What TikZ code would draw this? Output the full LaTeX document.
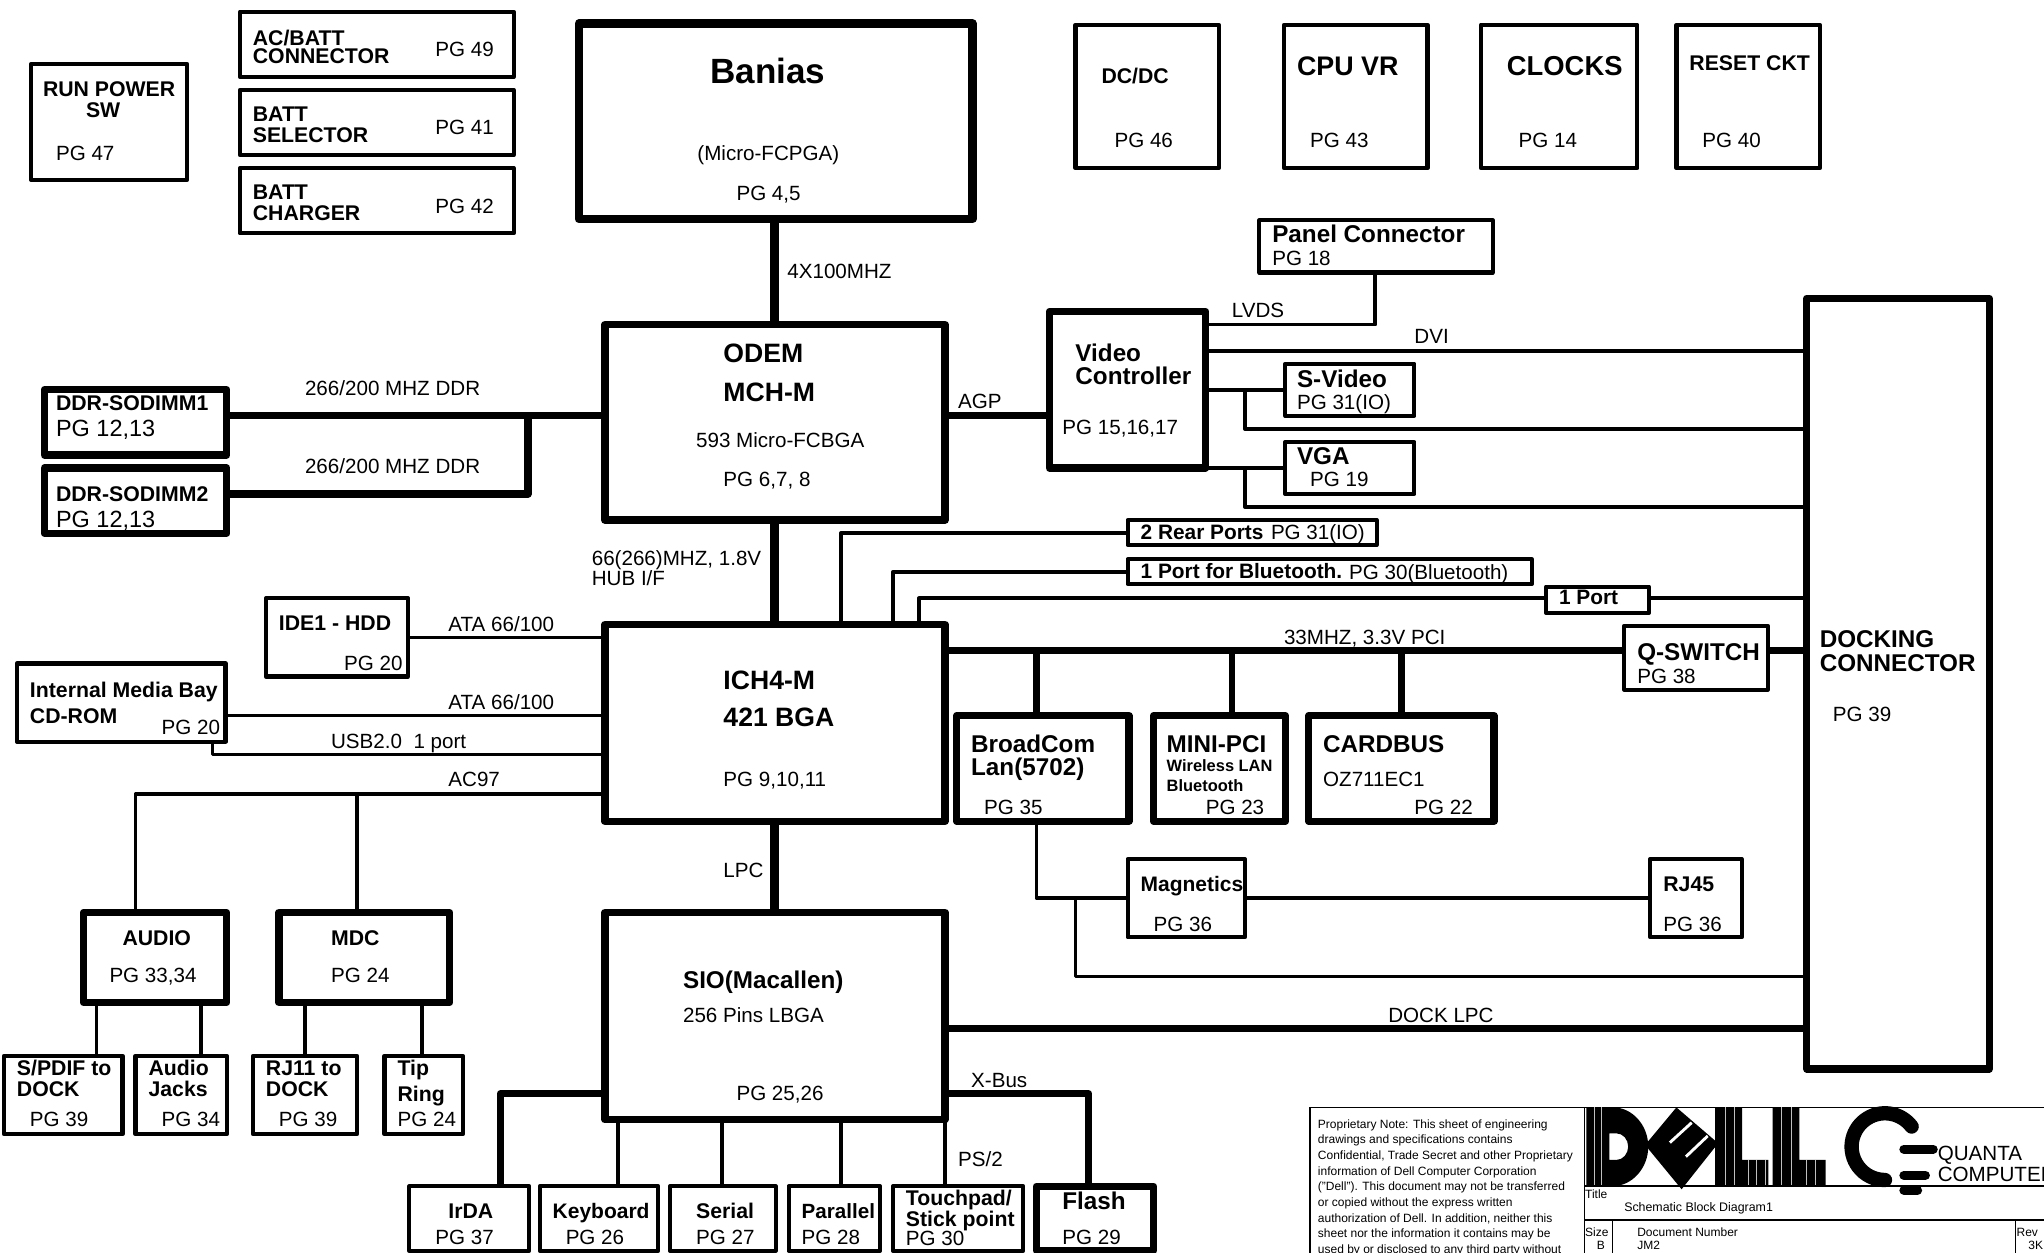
\documentclass[tikz,border=0pt]{standalone}
\usepackage{fontspec}
\setmainfont{Liberation Sans}
\newcount\lblcount
\tikzset{
  x=1pt,y=-1pt,
  boxa/.style={draw=black,line width=3.2pt,line join=round,inner sep=0pt,outer sep=0pt,rectangle},
  boxb/.style={boxa,line width=5.6pt},
  boxc/.style={boxa,line width=6.4pt},
  lbl/.style={anchor=base west,inner sep=0pt,outer sep=0pt,text=black},
  plain/.style={yshift=-0.5pt},
  bold/.style={node font=\bfseries},
  wa/.style={draw=black,line width=2.6pt,line join=round},
  wb/.style={draw=black,line width=2.9pt,line join=round},
  wc/.style={draw=black,line width=3.4pt,line join=round},
  wd/.style={draw=black,line width=5pt,line join=round},
  we/.style={draw=black,line width=5.6pt,line join=round},
  wf/.style={draw=black,line width=6.4pt,line join=round},
  rule/.style={draw=black,line width=1.3pt},
  stripe/.style={draw=white!75!black,line width=0.3pt},
}
\newcommand{\bx}[6]{%
  \pgfmathsetmacro{\bxw}{#5-#3}\pgfmathsetmacro{\bxh}{#6-#4}%
  \pgfmathsetmacro{\bxx}{(#5+#3)/2}\pgfmathsetmacro{\bxy}{(#6+#4)/2}%
  \node[#2,minimum width=\bxw pt,minimum height=\bxh pt] (#1) at (\bxx,\bxy) {};}
\newcommand{\tx}[5][plain]{%
  \global\advance\lblcount by 1
  \node[lbl,#1,font=\fontsize{#2}{#2}\selectfont] (t\the\lblcount) at (#3,#4) {#5};}
\newcommand{\pg}[3]{\tx{15.8}{#1}{#2}{#3}}
\newcommand{\bs}[3]{\tx[bold]{16.3}{#1}{#2}{#3}}
\newcommand{\bm}[3]{\tx[bold]{18.6}{#1}{#2}{#3}}
\newcommand{\bl}[3]{\tx[bold]{20.4}{#1}{#2}{#3}}
\newcommand{\nt}[2]{\tx{9.2}{1011}{#1}{#2}}
\begin{document}
\begin{tikzpicture}
\useasboundingbox (0,0) rectangle (1568,961.2);
\fill[white] (0,0) rectangle (1568,961.2);
\clip (0,0) rectangle (1568,961.2);
% boxes
\bx{run}{boxa}{24}{49}{143.5}{138}
\bx{acbatt}{boxa}{184}{9}{394}{59}
\bx{battsel}{boxa}{184}{69}{394}{119}
\bx{battchg}{boxa}{184}{129}{394}{179}
\bx{banias}{boxc}{444}{18}{746}{168}
\bx{dcdc}{boxa}{825}{19}{935}{129}
\bx{cpuvr}{boxa}{985}{19}{1095}{129}
\bx{clocks}{boxa}{1136}{19}{1256}{129}
\bx{reset}{boxa}{1286}{19}{1396}{129}
\bx{panel}{boxa}{966}{169}{1145}{209}
\bx{video}{boxb}{805}{239}{925}{359}
\bx{odem}{boxb}{464}{249}{725}{399}
\bx{dock}{boxb}{1386}{229}{1526}{820}
\bx{ddra}{boxb}{34}{299}{174}{349}
\bx{ddrb}{boxb}{34}{359}{174}{409}
\bx{svideo}{boxa}{986}{279}{1085}{319}
\bx{vga}{boxa}{986}{339}{1085}{379}
\bx{rear}{boxa}{865}{399}{1056}{418}
\bx{blue}{boxa}{865}{429}{1175}{448}
\bx{oneport}{boxa}{1186}{450}{1265}{470}
\bx{qsw}{boxa}{1246}{480}{1356}{529}
\bx{ide}{boxa}{204}{459}{313}{519}
\bx{imb}{boxa}{13}{509}{173}{569}
\bx{ich}{boxb}{464}{479}{725}{630}
\bx{lan}{boxb}{734}{549}{866}{630}
\bx{minipci}{boxb}{885}{549}{986}{630}
\bx{cardbus}{boxb}{1004}{549}{1146}{630}
\bx{magn}{boxa}{865}{659}{955}{719}
\bx{rj}{boxa}{1266}{659}{1336}{719}
\bx{audio}{boxb}{64}{700}{174}{769}
\bx{mdc}{boxb}{214}{700}{345}{769}
\bx{sio}{boxb}{464}{700}{725}{859}
\bx{spdif}{boxa}{3}{810}{94}{870}
\bx{jacks}{boxa}{104}{810}{174}{870}
\bx{rjdock}{boxa}{194}{810}{274}{870}
\bx{tip}{boxa}{295}{810}{355}{870}
\bx{irda}{boxa}{314}{910}{406}{959.5}
\bx{kbd}{boxa}{414}{910}{505}{959.5}
\bx{serial}{boxa}{514}{910}{595}{959.5}
\bx{parallel}{boxa}{605}{910}{675}{959.5}
\bx{touch}{boxa}{685}{910}{785}{959.5}
\bx{flash}{boxb}{795}{910}{885}{959.5}
% connectors
\draw[wf] (banias.south -| 594,0) -- (odem.north -| 594,0);
\draw[wf] (odem.south -| 594,0) -- (ich.north -| 594,0);
\draw[wf] (ich.south -| 594,0) -- (sio.north -| 594,0);
\draw[we] (odem.east |- 0,319) -- (video.west |- 0,319);
\draw[we] (ddra.east |- 0,319) -- (odem.west |- 0,319);
\draw[we] (ddrb.east |- 0,379) -- (405,379) -- (405,319);
\draw[wb] (video.east |- 0,249) -- (1055,249) -- (panel.south -| 1055,0);
\draw[wb] (video.east |- 0,269) -- (dock.west |- 0,269);
\draw[wc] (video.east |- 0,299) -- (svideo.west |- 0,299);
\draw[wb] (955,299) -- (955,329) -- (dock.west |- 0,329);
\draw[wa] (video.east |- 0,359) -- (vga.west |- 0,359);
\draw[wb] (955,359) -- (955,389) -- (dock.west |- 0,389);
\draw[wb] (ich.north -| 645,0) -- (645,409) -- (rear.west |- 0,409);
\draw[wc] (ich.north -| 685,0) -- (685,439) -- (blue.west |- 0,439);
\draw[wb] (ich.north -| 705,0) -- (705,459) -- (oneport.west |- 0,459);
\draw[wb] (oneport.east |- 0,459) -- (dock.west |- 0,459);
\draw[we] (ich.east |- 0,499) -- (qsw.west |- 0,499);
\draw[we] (qsw.east |- 0,499) -- (dock.west |- 0,499);
\draw[wd] (lan.north -| 795,0) -- (795,499);
\draw[wd] (minipci.north -| 945,0) -- (945,499);
\draw[wd] (cardbus.north -| 1075,0) -- (1075,499);
\draw[wa] (ide.east |- 0,489) -- (ich.west |- 0,489);
\draw[wa] (imb.east |- 0,549) -- (ich.west |- 0,549);
\draw[wa] (imb.south -| 163,0) -- (163,579) -- (ich.west |- 0,579);
\draw[wb] (ich.west |- 0,609) -- (104,609) -- (audio.north -| 104,0);
\draw[wb] (274,609) -- (mdc.north -| 274,0);
\draw[wb] (audio.south -| 74,0) -- (spdif.north -| 74,0);
\draw[wb] (audio.south -| 154,0) -- (jacks.north -| 154,0);
\draw[wb] (mdc.south -| 234,0) -- (rjdock.north -| 234,0);
\draw[wb] (mdc.south -| 324,0) -- (tip.north -| 324,0);
\draw[we] (sio.west |- 0,839) -- (384,839) -- (irda.north -| 384,0);
\draw[wa] (sio.south -| 474,0) -- (kbd.north -| 474,0);
\draw[wa] (sio.south -| 554,0) -- (serial.north -| 554,0);
\draw[wa] (sio.south -| 645,0) -- (parallel.north -| 645,0);
\draw[wa] (sio.south -| 725,0) -- (touch.north -| 725,0);
\draw[we] (sio.east |- 0,839) -- (835,839) -- (flash.north -| 835,0);
\draw[wd] (sio.east |- 0,789) -- (dock.west |- 0,789);
\draw[wa] (lan.south -| 795,0) -- (795,689) -- (magn.west |- 0,689);
\draw[wa] (825,689) -- (825,749) -- (dock.west |- 0,749);
\draw[wa] (magn.east |- 0,689) -- (rj.west |- 0,689);
% labels
\bs{33}{74}{RUN POWER}\bs{66}{90}{SW}\pg{43}{123}{PG 47}
\bs{194}{35}{AC/BATT}\bs{194}{49}{CONNECTOR}\pg{334}{43}{PG 49}
\bs{194}{93}{BATT}\bs{194}{109}{SELECTOR}\pg{334}{103}{PG 41}
\bs{194}{153}{BATT}\bs{194}{169}{CHARGER}\pg{334}{163}{PG 42}
\tx[bold]{26.9}{545}{64}{Banias}\pg{535}{123}{(Micro-FCPGA)}\pg{565}{153}{PG 4,5}
\pg{604}{213}{4X100MHZ}
\bs{845}{64}{DC/DC}\pg{855}{113}{PG 46}
\tx[bold]{20.6}{995}{58}{CPU VR}\pg{1005}{113}{PG 43}
\tx[bold]{21}{1156}{58}{CLOCKS}\pg{1165}{113}{PG 14}
\bs{1296}{54}{RESET CKT}\pg{1306}{113}{PG 40}
\bm{976}{186}{Panel Connector}\pg{976}{203}{PG 18}
\pg{945}{243}{LVDS}\pg{1085}{263}{DVI}
\bm{825}{277}{Video}\bm{825}{295}{Controller}\pg{815}{333}{PG 15,16,17}
\bm{995}{297}{S-Video}\pg{995}{314}{PG 31(IO)}
\bm{995}{356}{VGA}\pg{1005}{373}{PG 19}
\pg{735}{313}{AGP}
\bl{555}{278}{ODEM}\bl{555}{308}{MCH-M}\pg{534}{343}{593 Micro-FCBGA}\pg{555}{373}{PG 6,7, 8}
\bs{43}{315}{DDR-SODIMM1}\tx{18}{43}{334}{PG 12,13}
\bs{43}{385}{DDR-SODIMM2}\tx{18}{43}{404}{PG 12,13}
\pg{234}{303}{266/200 MHZ DDR}\pg{234}{363}{266/200 MHZ DDR}
\tx[bold]{16}{875}{414}{2 Rear Ports}\pg{975}{413}{PG 31(IO)}
\tx[bold]{16}{875}{444}{1 Port for Bluetooth.}\pg{1035}{444}{PG 30(Bluetooth)}
\tx[bold]{16}{1196}{464}{1 Port}
\pg{985}{494}{33MHZ, 3.3V PCI}
\pg{454}{433}{66(266)MHZ, 1.8V}\pg{454}{449}{HUB I/F}
\bs{214}{484}{IDE1 - HDD}\pg{264}{514}{PG 20}
\pg{344}{484}{ATA 66/100}\pg{344}{544}{ATA 66/100}
\bs{23}{535}{Internal Media Bay}\bs{23}{555}{CD-ROM}\pg{124}{563}{PG 20}
\pg{254}{574}{USB2.0\ \ 1 port}\pg{344}{603}{AC97}
\bl{555}{529}{ICH4-M}\bl{555}{557}{421 BGA}\pg{555}{603}{PG 9,10,11}
\bm{1256}{507}{Q-SWITCH}\pg{1256}{524}{PG 38}
\bm{1396}{497}{DOCKING}\bm{1396}{515}{CONNECTOR}\pg{1406}{553}{PG 39}
\bm{745}{577}{BroadCom}\bm{745}{595}{Lan(5702)}\pg{755}{624}{PG 35}
\bm{895}{577}{MINI-PCI}\tx[bold]{12.6}{895}{592}{Wireless LAN}\tx[bold]{12.6}{895}{607}{Bluetooth}\pg{925}{624}{PG 23}
\bm{1015}{577}{CARDBUS}\pg{1015}{603}{OZ711EC1}\pg{1085}{624}{PG 22}
\pg{555}{673}{LPC}
\tx[bold]{16.1}{875}{684}{Magnetics}\pg{885}{714}{PG 36}
\bs{1276}{684}{RJ45}\pg{1276}{714}{PG 36}
\pg{1065}{784}{DOCK LPC}
\bs{94}{725}{AUDIO}\pg{84}{753}{PG 33,34}
\bs{254}{725}{MDC}\pg{254}{753}{PG 24}
\bm{524}{758}{SIO(Macallen)}\pg{524}{784}{256 Pins LBGA}\pg{565}{844}{PG 25,26}
\pg{745}{834}{X-Bus}\pg{735}{894}{PS/2}
\bs{13}{825}{S/PDIF to}\bs{13}{841}{DOCK}\pg{23}{864}{PG 39}
\bs{114}{825}{Audio}\bs{114}{841}{Jacks}\pg{124}{864}{PG 34}
\bs{204}{825}{RJ11 to}\bs{204}{841}{DOCK}\pg{214}{864}{PG 39}
\bs{305}{825}{Tip}\bs{305}{845}{Ring}\pg{305}{864}{PG 24}
\bs{344}{935}{IrDA}\pg{334}{954}{PG 37}
\tx[bold]{16.1}{424}{935}{Keyboard}\pg{434}{954}{PG 26}
\bs{534}{935}{Serial}\pg{534}{954}{PG 27}
\tx[bold]{15.8}{615}{935}{Parallel}\pg{615}{954}{PG 28}
\bs{695}{925}{Touchpad/}\bs{695}{941}{Stick point}\pg{695}{955}{PG 30}
\tx[bold]{18.6}{815}{928}{Flash}\pg{815}{954}{PG 29}
% title block
\draw[rule] (1005,961.2) -- (1005,849.5) -- (1568,849.5);
\draw[rule] (1215.5,849.5) -- (1215.5,961.2);
\draw[rule] (1215.5,909.8) -- (1568,909.8);
\draw[rule] (1215.5,936) -- (1568,936);
\draw[rule] (1237,936) -- (1237,961.2);
\draw[rule] (1546,936) -- (1546,961.2);
\nt{865}{Proprietary Note: This sheet of engineering}
\nt{877}{drawings and specifications contains}
\nt{889}{Confidential, Trade Secret and other Proprietary}
\nt{901}{information of Dell Computer Corporation}
\nt{913}{("Dell"). This document may not be transferred}
\nt{925}{or copied without the express written}
\nt{937}{authorization of Dell. In addition, neither this}
\nt{949}{sheet nor the information it contains may be}
\nt{961}{used by or disclosed to any third party without}
\tx{9.2}{1216}{919}{Title}
\tx{9.5}{1246}{929}{Schematic Block Diagram1}
\tx{9.2}{1216}{948}{Size}\tx{9.2}{1225}{958}{B}
\tx{9.2}{1256}{948}{Document Number}\tx{9.2}{1256}{958}{JM2}
\tx{9.2}{1547}{948}{Rev}\tx{9.2}{1556}{958}{3K}
% logo
\fill[black,even odd rule] (1217,849.5) -- (1237.6,849.5) .. controls (1252,849.5) and (1264.4,863) .. (1264.4,879.6)
  .. controls (1264.4,896) and (1252,909.8) .. (1237.6,909.8) -- (1217,909.8) -- cycle
  (1234.5,869.4) -- (1240,869.4) .. controls (1245,869.4) and (1249,874) .. (1249,879.6)
  .. controls (1249,885) and (1245,889.8) .. (1240,889.8) -- (1234.5,889.8) -- cycle;
\fill[black] (1286,849.5) -- (1318,877) -- (1290,912.3) -- (1262,878.3) -- cycle;
\draw[white,line width=2.2pt] (1281,876.5) -- (1297.7,861.2);
\draw[white,line width=2.2pt] (1293.3,887.3) -- (1310,871.4);
\fill[black] (1315.6,849.5) -- (1336.5,849.5) -- (1336.5,889.8) -- (1356.5,889.8) -- (1356.5,909.8) -- (1315.6,909.8) -- cycle;
\fill[black] (1359.8,849.5) -- (1380.3,849.5) -- (1380.3,889.8) -- (1400.5,889.8) -- (1400.5,909.8) -- (1359.8,909.8) -- cycle;
\foreach \sx in {1222.7,1228.6,1323.2,1330.1,1366.7,1374.4} \draw[stripe] (\sx,849.5) -- (\sx,909.8);
\foreach \sx in {1341.1,1347.5,1353.9,1385.9,1392.3} \draw[stripe] (\sx,889.8) -- (\sx,909.8);
\draw[black,line width=11pt,line cap=round] (1446,879.6) ++(37:25.6pt) arc[start angle=37,end angle=270,radius=25.6pt];
\draw[black,line width=7pt,line cap=round] (1460.5,881.6) -- (1483,881.6);
\draw[black,line width=7pt,line cap=round] (1460.5,901.6) -- (1477,901.6);
\draw[black,line width=7pt,line cap=round] (1460.5,913) -- (1471,913);
\draw[rule] (1215.5,909.8) -- (1568,909.8);
\tx{15.8}{1486.5}{890}{QUANTA}\tx{15.8}{1486.5}{906}{COMPUTER}
\end{tikzpicture}
\end{document}
